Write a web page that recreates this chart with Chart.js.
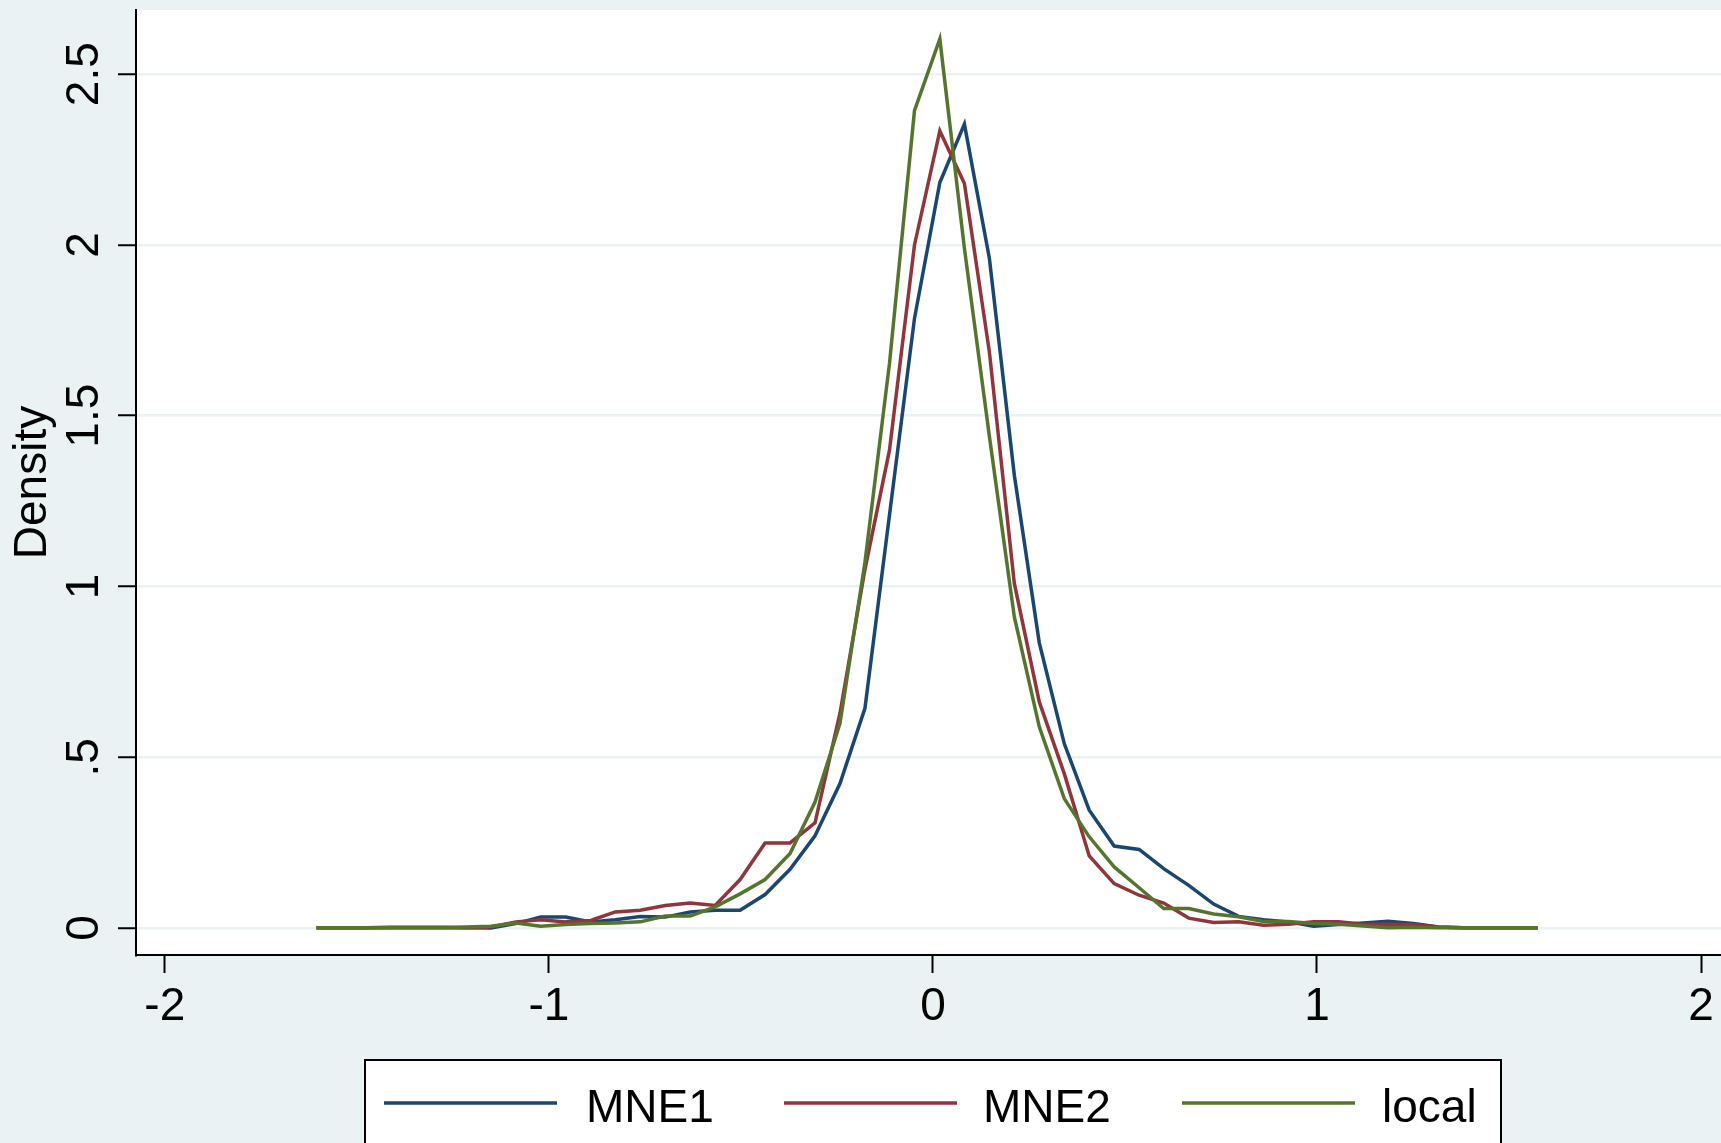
<!DOCTYPE html>
<html>
<head>
    <meta charset="utf-8">
    <title>Density</title>
    <script src="https://cdn.jsdelivr.net/npm/chart.js@4.4.1/dist/chart.umd.min.js"></script>
    <style>
        html, body { margin: 0; padding: 0; background: #eaf2f3; }
        canvas { display: block; }
    </style>
</head>
<body>
<canvas id="densityChart" width="1721" height="1143"></canvas>
<script>
    // kdensity evaluation grid (50 points)
    const xGrid = [
        -1.605, -1.540, -1.475, -1.410, -1.345, -1.281, -1.216, -1.151, -1.086, -1.021,
        -0.956, -0.891, -0.827, -0.762, -0.697, -0.632, -0.567, -0.502, -0.437, -0.372,
        -0.307, -0.242, -0.177, -0.113, -0.048, 0.018, 0.082, 0.147, 0.212, 0.277,
        0.342, 0.407, 0.472, 0.537, 0.601, 0.666, 0.731, 0.796, 0.861, 0.926,
        0.991, 1.056, 1.121, 1.185, 1.251, 1.316, 1.380, 1.445, 1.510, 1.575
    ];

    const mne1 = [
        0.001, 0.001, 0.001, 0.002, 0.002, 0.002, 0.001, 0.000, 0.013, 0.032,
        0.032, 0.018, 0.024, 0.034, 0.032, 0.047, 0.052, 0.052, 0.098, 0.172,
        0.270, 0.423, 0.643, 1.210, 1.785, 2.183, 2.354, 1.961, 1.326, 0.835,
        0.540, 0.345, 0.240, 0.230, 0.174, 0.125, 0.070, 0.034, 0.024, 0.018,
        0.005, 0.010, 0.015, 0.020, 0.013, 0.003, 0.001, 0.001, 0.001, 0.001
    ];

    const mne2 = [
        0.001, 0.001, 0.001, 0.001, 0.001, 0.001, 0.001, 0.003, 0.018, 0.024,
        0.018, 0.022, 0.047, 0.052, 0.066, 0.073, 0.066, 0.142, 0.249, 0.249,
        0.308, 0.629, 1.050, 1.400, 2.000, 2.334, 2.180, 1.687, 1.009, 0.662,
        0.452, 0.211, 0.130, 0.096, 0.073, 0.029, 0.016, 0.018, 0.008, 0.011,
        0.018, 0.018, 0.011, 0.011, 0.010, 0.003, 0.001, 0.001, 0.001, 0.001
    ];

    const local = [
        0.001, 0.001, 0.001, 0.001, 0.001, 0.001, 0.003, 0.005, 0.015, 0.005,
        0.010, 0.013, 0.015, 0.018, 0.035, 0.035, 0.062, 0.100, 0.142, 0.218,
        0.369, 0.599, 1.070, 1.654, 2.393, 2.603, 1.990, 1.440, 0.911, 0.589,
        0.379, 0.267, 0.179, 0.118, 0.057, 0.057, 0.041, 0.033, 0.019, 0.019,
        0.013, 0.011, 0.006, 0.001, 0.002, 0.001, 0.001, 0.001, 0.001, 0.001
    ];

    const seriesNames = ['MNE1', 'MNE2', 'local'];
    const seriesColors = ['#1a476f', '#90353b', '#55752f'];

    const xTicks = [-2, -1, 0, 1, 2];
    const xTickLabels = ['-2', '-1', '0', '1', '2'];
    const yTicks = [0, 0.5, 1, 1.5, 2, 2.5];
    const yTickLabels = ['0', '.5', '1', '1.5', '2', '2.5'];
    const yTitle = 'Density';

    const FONT = 'Helvetica, Arial, "Liberation Sans", sans-serif';
    const BG = '#eaf2f3';

    function toPoints(values) {
        return values.map((v, i) => ({ x: xGrid[i], y: v }));
    }

    // grey page with a white plot region
    const backdrop = {
        id: 'backdrop',
        beforeDraw(chart) {
            const c = chart.ctx;
            const a = chart.chartArea;
            c.save();
            c.fillStyle = BG;
            c.fillRect(0, 0, chart.width, chart.height);
            c.fillStyle = '#ffffff';
            c.fillRect(a.left, a.top, a.right - a.left, a.bottom - a.top);
            c.restore();
        }
    };

    // tick labels, axis title and the boxed legend
    const labels = {
        id: 'labels',
        afterDraw(chart) {
            const c = chart.ctx;
            const xs = chart.scales.x;
            const ys = chart.scales.y;
            c.save();
            c.fillStyle = '#000';
            c.font = '46px ' + FONT;
            c.textBaseline = 'alphabetic';
            c.textAlign = 'center';

            yTicks.forEach((v, i) => {
                c.save();
                c.translate(98, ys.getPixelForValue(v));
                c.rotate(-Math.PI / 2);
                c.fillText(yTickLabels[i], 0, 0);
                c.restore();
            });

            xTicks.forEach((v, i) => {
                c.fillText(xTickLabels[i], xs.getPixelForValue(v), 1020);
            });

            const a = chart.chartArea;
            c.save();
            c.translate(46, (a.top + a.bottom) / 2);
            c.rotate(-Math.PI / 2);
            c.fillText(yTitle, 0, 0);
            c.restore();

            // legend
            c.fillStyle = '#ffffff';
            c.fillRect(365, 1060, 1136, 120);
            c.strokeStyle = '#000';
            c.lineWidth = 2;
            c.strokeRect(365, 1060, 1136, 120);

            const lineStart = [384, 784, 1182];
            const textStart = [586, 983, 1382];
            c.textAlign = 'left';
            c.fillStyle = '#000';
            seriesNames.forEach((name, i) => {
                c.strokeStyle = seriesColors[i];
                c.lineWidth = 3.5;
                c.beginPath();
                c.moveTo(lineStart[i], 1103);
                c.lineTo(lineStart[i] + 173, 1103);
                c.stroke();
                c.fillText(name, textStart[i], 1122);
            });
            c.restore();
        }
    };

    const ctx = document.getElementById('densityChart').getContext('2d');
    new Chart(ctx, {
        type: 'line',
        data: {
            datasets: [mne1, mne2, local].map((vals, i) => ({
                label: seriesNames[i],
                data: toPoints(vals),
                borderColor: seriesColors[i],
                borderWidth: 3.5,
                pointRadius: 0,
                tension: 0,
                fill: false,
                order: 3 - i
            }))
        },
        options: {
            responsive: false,
            animation: false,
            layout: { padding: { top: 10, left: 0, right: 0, bottom: 0 } },
            plugins: {
                legend: { display: false },
                tooltip: { enabled: false }
            },
            scales: {
                x: {
                    type: 'linear',
                    min: -2.075,
                    max: 2.052,
                    afterBuildTicks: s => { s.ticks = xTicks.map(v => ({ value: v })); },
                    afterFit: s => { s.height = 188; },
                    ticks: { display: false },
                    grid: {
                        drawOnChartArea: false,
                        drawTicks: true,
                        tickLength: 18,
                        tickColor: '#000',
                        tickWidth: 2
                    },
                    border: { display: true, color: '#000', width: 2 }
                },
                y: {
                    type: 'linear',
                    min: -0.079,
                    max: 2.688,
                    afterBuildTicks: s => { s.ticks = yTicks.map(v => ({ value: v })); },
                    afterFit: s => { s.width = 136; },
                    ticks: { display: false },
                    grid: {
                        color: BG,
                        lineWidth: 2.5,
                        drawTicks: true,
                        tickLength: 18,
                        tickColor: '#000',
                        tickWidth: 2
                    },
                    border: { display: true, color: '#000', width: 2 }
                }
            }
        },
        plugins: [backdrop, labels]
    });
</script>
</body>
</html>
